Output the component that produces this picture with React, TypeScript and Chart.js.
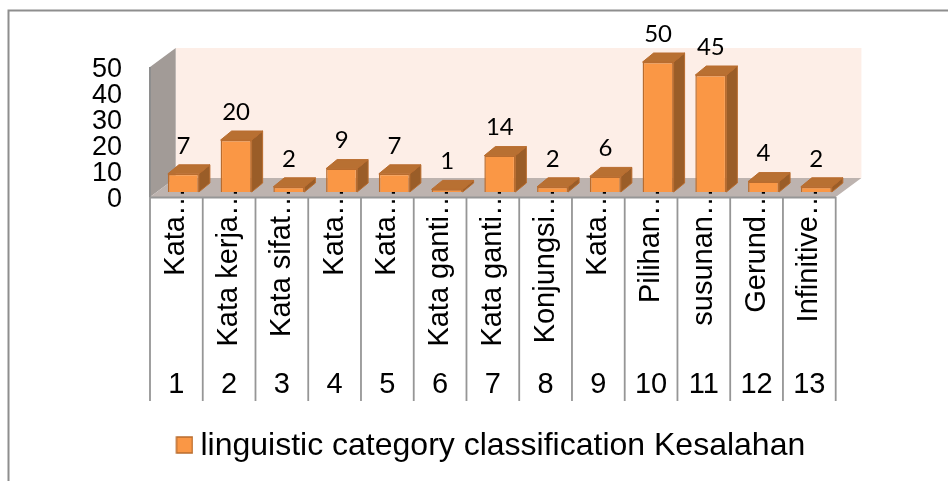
import React, { useEffect, useRef } from "react";
import { Chart, registerables } from "chart.js";

Chart.register(...registerables);

const categoryNames = [
  "Kata…",
  "Kata kerja…",
  "Kata sifat…",
  "Kata…",
  "Kata…",
  "Kata ganti…",
  "Kata ganti…",
  "Konjungsi…",
  "Kata…",
  "Pilihan…",
  "susunan…",
  "Gerund…",
  "Infinitive…",
];
const categoryNumbers = ["1", "2", "3", "4", "5", "6", "7", "8", "9", "10", "11", "12", "13"];
const errorCounts = [7, 20, 2, 9, 7, 1, 14, 2, 6, 50, 45, 4, 2];
const seriesName = "linguistic category classification Kesalahan";

const SANS = "'Liberation Sans', Arial, sans-serif";
const FRAME = "#8E8E8E";
const FRONT = "#FA9745";
const EDGE = "#B96C2E";
const TOP_FACE = "#B87032";
const SIDE_FACE = "#9A5D28";

// Oblique offsets of the pseudo-3D box.
const ROOM_DX = 25.7;
const ROOM_DY = -19;
const BAR_SHIFT_X = 7;
const BAR_SHIFT_Y = -5;
const BAR_DX = 11;
const BAR_DY = -9;

function poly(ctx: CanvasRenderingContext2D, pts: number[][], fill: string, stroke?: string) {
  ctx.beginPath();
  pts.forEach(([x, y], i) => (i ? ctx.lineTo(x, y) : ctx.moveTo(x, y)));
  ctx.closePath();
  ctx.fillStyle = fill;
  ctx.fill();
  if (stroke) {
    ctx.strokeStyle = stroke;
    ctx.lineWidth = 1;
    ctx.stroke();
  }
}

const roomPlugin = {
  id: "room",
  beforeDraw(chart: any) {
    const { ctx, chartArea: a, scales } = chart;
    const { left, right, top, bottom } = a;
    ctx.save();
    // Outer frame: only the top and left edges fall inside the canvas.
    ctx.strokeStyle = FRAME;
    ctx.lineWidth = 2;
    ctx.beginPath();
    ctx.moveTo(948, 10.5);
    ctx.lineTo(8.5, 10.5);
    ctx.lineTo(8.5, 481);
    ctx.stroke();

    // Back wall, side wall and floor.
    poly(ctx, [
      [left + ROOM_DX, top + ROOM_DY],
      [right + ROOM_DX, top + ROOM_DY],
      [right + ROOM_DX, bottom + ROOM_DY],
      [left + ROOM_DX, bottom + ROOM_DY],
    ], "#FDEEE7");
    poly(ctx, [
      [left, top],
      [left + ROOM_DX, top + ROOM_DY],
      [left + ROOM_DX, bottom + ROOM_DY],
      [left, bottom],
    ], "#A29B97");
    poly(ctx, [
      [left, bottom],
      [left + ROOM_DX, bottom + ROOM_DY],
      [right + ROOM_DX, bottom + ROOM_DY],
      [right, bottom],
    ], "#BDB3AF");

    ctx.strokeStyle = "#8E8E8E";
    ctx.lineWidth = 2;
    ctx.beginPath();
    ctx.moveTo(left, top);
    ctx.lineTo(left, bottom);
    ctx.stroke();

    // Cell separators of the two-level category axis.
    const x = scales.x;
    const step = (right - left) / categoryNames.length;
    ctx.strokeStyle = "#969696";
    ctx.lineWidth = 1.8;
    ctx.beginPath();
    for (let i = 0; i <= categoryNames.length; i++) {
      const px = i < categoryNames.length ? x.getPixelForTick(i) - step / 2 : right;
      ctx.moveTo(px, bottom);
      ctx.lineTo(px, scales.x2.top + 34);
    }
    ctx.moveTo(left, bottom + 0.5);
    ctx.lineTo(right, bottom + 0.5);
    ctx.stroke();
    ctx.restore();
  },
  beforeDatasetDraw(chart: any, args: any) {
    const { ctx } = chart;
    ctx.save();
    ctx.translate(BAR_SHIFT_X, BAR_SHIFT_Y);
    for (const el of args.meta.data) {
      const l = el.x - el.width / 2;
      const r = el.x + el.width / 2;
      const t = el.y;
      const b = el.base;
      poly(ctx, [
        [r, t],
        [r + BAR_DX, t + BAR_DY],
        [r + BAR_DX, b + BAR_DY],
        [r, b],
      ], SIDE_FACE, EDGE);
      poly(ctx, [
        [l, t],
        [l + BAR_DX, t + BAR_DY],
        [r + BAR_DX, t + BAR_DY],
        [r, t],
      ], TOP_FACE, EDGE);
    }
  },
  afterDatasetDraw(chart: any) {
    chart.ctx.restore();
  },
  afterDatasetsDraw(chart: any) {
    const { ctx } = chart;
    const meta = chart.getDatasetMeta(0);
    ctx.save();
    ctx.font = "24px Lato, sans-serif";
    ctx.fillStyle = "#000";
    ctx.textAlign = "center";
    ctx.textBaseline = "middle";
    meta.data.forEach((el: any, i: number) => {
      ctx.fillText(String(errorCounts[i]), el.x + BAR_SHIFT_X, el.y + BAR_SHIFT_Y - 28);
    });
    ctx.restore();
  },
};

function makeSwatch(): HTMLCanvasElement {
  const c = document.createElement("canvas");
  c.width = 22;
  c.height = 20;
  const g = c.getContext("2d")!;
  g.fillStyle = FRONT;
  g.fillRect(5, 1, 16, 16);
  g.strokeStyle = EDGE;
  g.lineWidth = 1.5;
  g.strokeRect(5, 1, 16, 16);
  return c;
}

export default function App() {
  const ref = useRef<HTMLCanvasElement>(null);

  useEffect(() => {
    const chart = new Chart(ref.current!, {
      type: "bar",
      plugins: [roomPlugin],
      data: {
        labels: categoryNames,
        datasets: [
          {
            label: seriesName,
            data: errorCounts,
            backgroundColor: FRONT,
            borderColor: EDGE,
            borderWidth: 1.5,
            barPercentage: 0.588,
            categoryPercentage: 1,
            clip: false,
          },
        ],
      },
      options: {
        responsive: false,
        animation: false,
        layout: { padding: { left: 0, right: 112.3, top: 67, bottom: 9 } },
        plugins: {
          tooltip: { enabled: false },
          legend: {
            position: "bottom",
            fullSize: false,
            labels: {
              color: "#000",
              font: { family: SANS, size: 32 },
              padding: 10,
              usePointStyle: true,
              pointStyle: makeSwatch(),
              pointStyleWidth: 4,
              boxHeight: 17,
            },
          },
        },
        scales: {
          y: {
            min: 0,
            max: 50,
            grid: { display: false },
            border: { display: false },
            afterFit: (s: any) => {
              s.width = 150;
            },
            ticks: {
              stepSize: 10,
              autoSkip: false,
              padding: 20,
              labelOffset: 3,
              color: "#000",
              font: { family: SANS, size: 27 },
            },
          },
          x: {
            weight: 0,
            z: 1,
            grid: { display: false, drawTicks: false },
            border: { display: false },
            afterFit: (s: any) => {
              s.height = 170;
              // The ellipses run up over the floor, so the labels may leave the axis box.
              s._computeLabelArea = () => undefined;
            },
            ticks: {
              autoSkip: false,
              minRotation: 90,
              maxRotation: 90,
              padding: -10,
              color: "#000",
              font: { family: SANS, size: 29 },
            },
          },
          x2: {
            type: "category",
            position: "bottom",
            weight: 1,
            labels: categoryNumbers,
            offset: true,
            grid: { display: false, drawTicks: false },
            border: { display: false },
            afterFit: (s: any) => {
              s.height = 53;
            },
            ticks: {
              autoSkip: false,
              maxRotation: 0,
              padding: 1,
              color: "#000",
              font: { family: SANS, size: 29 },
            },
          },
        },
      },
    } as any);
    return () => chart.destroy();
  }, []);

  return (
    <canvas
      ref={ref}
      width={948}
      height={481}
      style={{ position: "fixed", left: 0, top: 0, width: 948, height: 481, background: "#fff" }}
    />
  );
}
